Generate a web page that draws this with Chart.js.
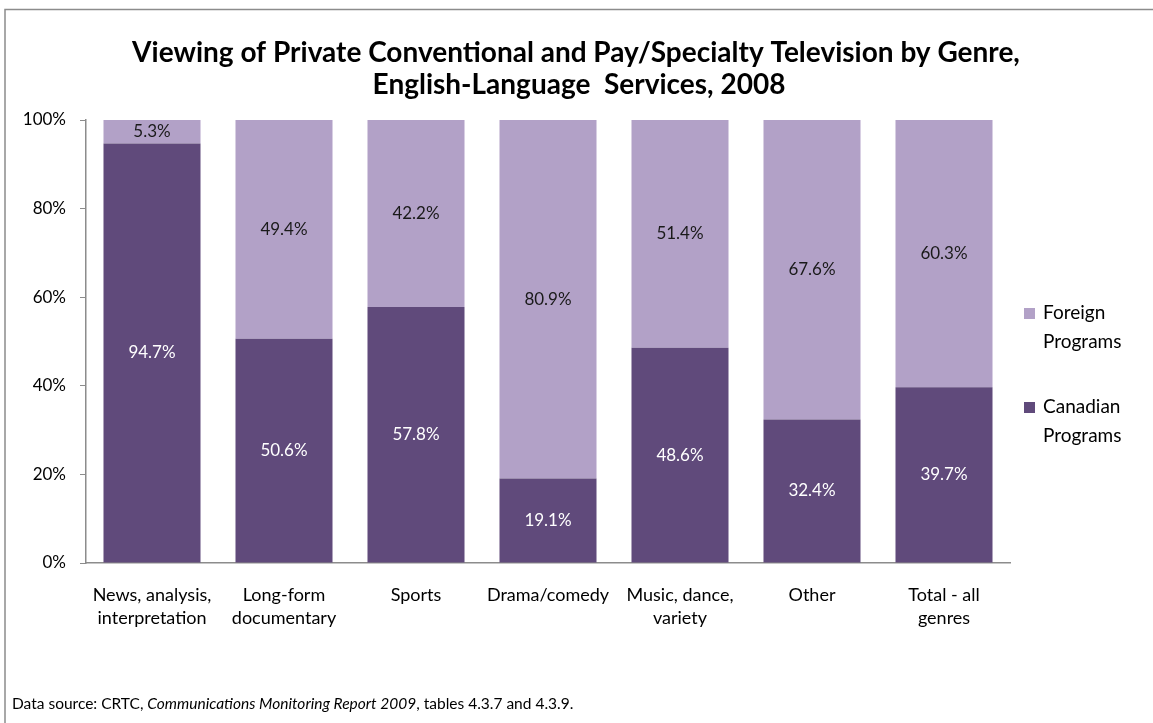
<!DOCTYPE html>
<html>
<head>
<meta charset="utf-8">
<script src="https://cdn.jsdelivr.net/npm/chart.js@4"></script>
<style>
  html, body { margin: 0; padding: 0; background: #fff; }
  #wrap { width: 1153px; height: 723px; position: relative; }
</style>
</head>
<body>
<div id="wrap"><canvas id="chart"></canvas></div>
<script>
const genres = [
    ['News, analysis,', 'interpretation'],
    ['Long-form', 'documentary'],
    'Sports',
    'Drama/comedy',
    ['Music, dance,', 'variety'],
    'Other',
    ['Total - all', 'genres']
];
const canadian = [94.7, 50.6, 57.8, 19.1, 48.6, 32.4, 39.7];
const foreign = [5.3, 49.4, 42.2, 80.9, 51.4, 67.6, 60.3];
const yTicks = [0, 20, 40, 60, 80, 100];

const FONT = 'Lato, "Open Sans", sans-serif';
const DARK = '#604a7b';
const LIGHT = '#b2a1c7';

// frame, title, legend, source line and value labels
const decor = {
    id: 'decor',
    beforeDraw(chart) {
        const c = chart.ctx;
        c.save();
        c.fillStyle = '#fff';
        c.fillRect(0, 0, chart.width, chart.height);
        c.strokeStyle = '#8c8c8c';
        c.lineWidth = 1.5;
        c.beginPath();
        c.moveTo(5, chart.height + 5);
        c.lineTo(5, 9.5);
        c.lineTo(chart.width + 5, 9.5);
        c.stroke();
        c.restore();
    },
    afterDraw(chart) {
        const c = chart.ctx;
        c.save();
        c.fillStyle = '#000';
        c.textAlign = 'center';
        c.textBaseline = 'middle';
        c.font = 'bold 28px ' + FONT;
        c.fillText('Viewing of Private Conventional and Pay/Specialty Television by Genre,', 576, 53);
        c.fillText('English-Language  Services, 2008', 579, 85);

        // values inside each segment
        c.font = '17px ' + FONT;
        chart.data.datasets.forEach((ds, i) => {
            const meta = chart.getDatasetMeta(i);
            meta.data.forEach((bar, j) => {
                const mid = (bar.y + bar.base) / 2;
                c.fillStyle = i === 0 ? '#ffffff' : '#1a1a1a';
                c.fillText(ds.data[j].toFixed(1) + '%', bar.x, mid);
            });
        });

        // legend
        const items = [
            { color: LIGHT, lines: ['Foreign', 'Programs'], y: 313 },
            { color: DARK, lines: ['Canadian', 'Programs'], y: 407 }
        ];
        c.textAlign = 'left';
        c.font = '19px ' + FONT;
        items.forEach(it => {
            c.fillStyle = it.color;
            c.fillRect(1024, it.y - 5, 11, 11);
            c.fillStyle = '#000';
            it.lines.forEach((t, k) => c.fillText(t, 1043, it.y + k * 29));
        });

        // source
        let x = 12;
        const y = 704;
        const parts = [
            ['Data source: CRTC, ', ''],
            ['Communications Monitoring Report 2009', 'italic '],
            [', tables 4.3.7 and 4.3.9.', '']
        ];
        parts.forEach(([t, st]) => {
            c.font = st + '15.5px ' + FONT;
            c.fillText(t, x, y);
            x += c.measureText(t).width;
        });
        c.restore();
    }
};

new Chart(document.getElementById('chart'), {
    type: 'bar',
    data: {
        labels: genres,
        datasets: [
            { label: 'Canadian Programs', data: canadian, backgroundColor: DARK },
            { label: 'Foreign Programs', data: foreign, backgroundColor: LIGHT }
        ]
    },
    options: {
        responsive: true,
        maintainAspectRatio: false,
        animation: false,
        layout: { padding: { top: 120, right: 143, left: 0, bottom: 0 } },
        datasets: {
            bar: { categoryPercentage: 1, barPercentage: 0.735 }
        },
        plugins: {
            legend: { display: false },
            title: { display: false },
            tooltip: { enabled: false }
        },
        scales: {
            x: {
                stacked: true,
                afterFit(scale) { scale.height = 160; },
                grid: { display: false, drawTicks: false },
                border: { display: true, color: '#8c8c8c', width: 1.5 },
                ticks: {
                    color: '#000',
                    padding: 20,
                    maxRotation: 0,
                    autoSkip: false,
                    font: { family: FONT, size: 18, lineHeight: 1.3 }
                }
            },
            y: {
                stacked: true,
                min: 0,
                max: 100,
                afterFit(scale) { scale.width = 86; },
                afterBuildTicks(scale) {
                    scale.ticks = yTicks.map(v => ({ value: v }));
                },
                grid: {
                    drawOnChartArea: false,
                    drawTicks: true,
                    tickLength: 6,
                    color: '#8c8c8c'
                },
                border: { display: true, color: '#8c8c8c', width: 1.5 },
                ticks: {
                    color: '#000',
                    padding: 14,
                    font: { family: FONT, size: 17 },
                    callback: v => v + '%'
                }
            }
        }
    },
    plugins: [decor]
});
</script>
</body>
</html>
